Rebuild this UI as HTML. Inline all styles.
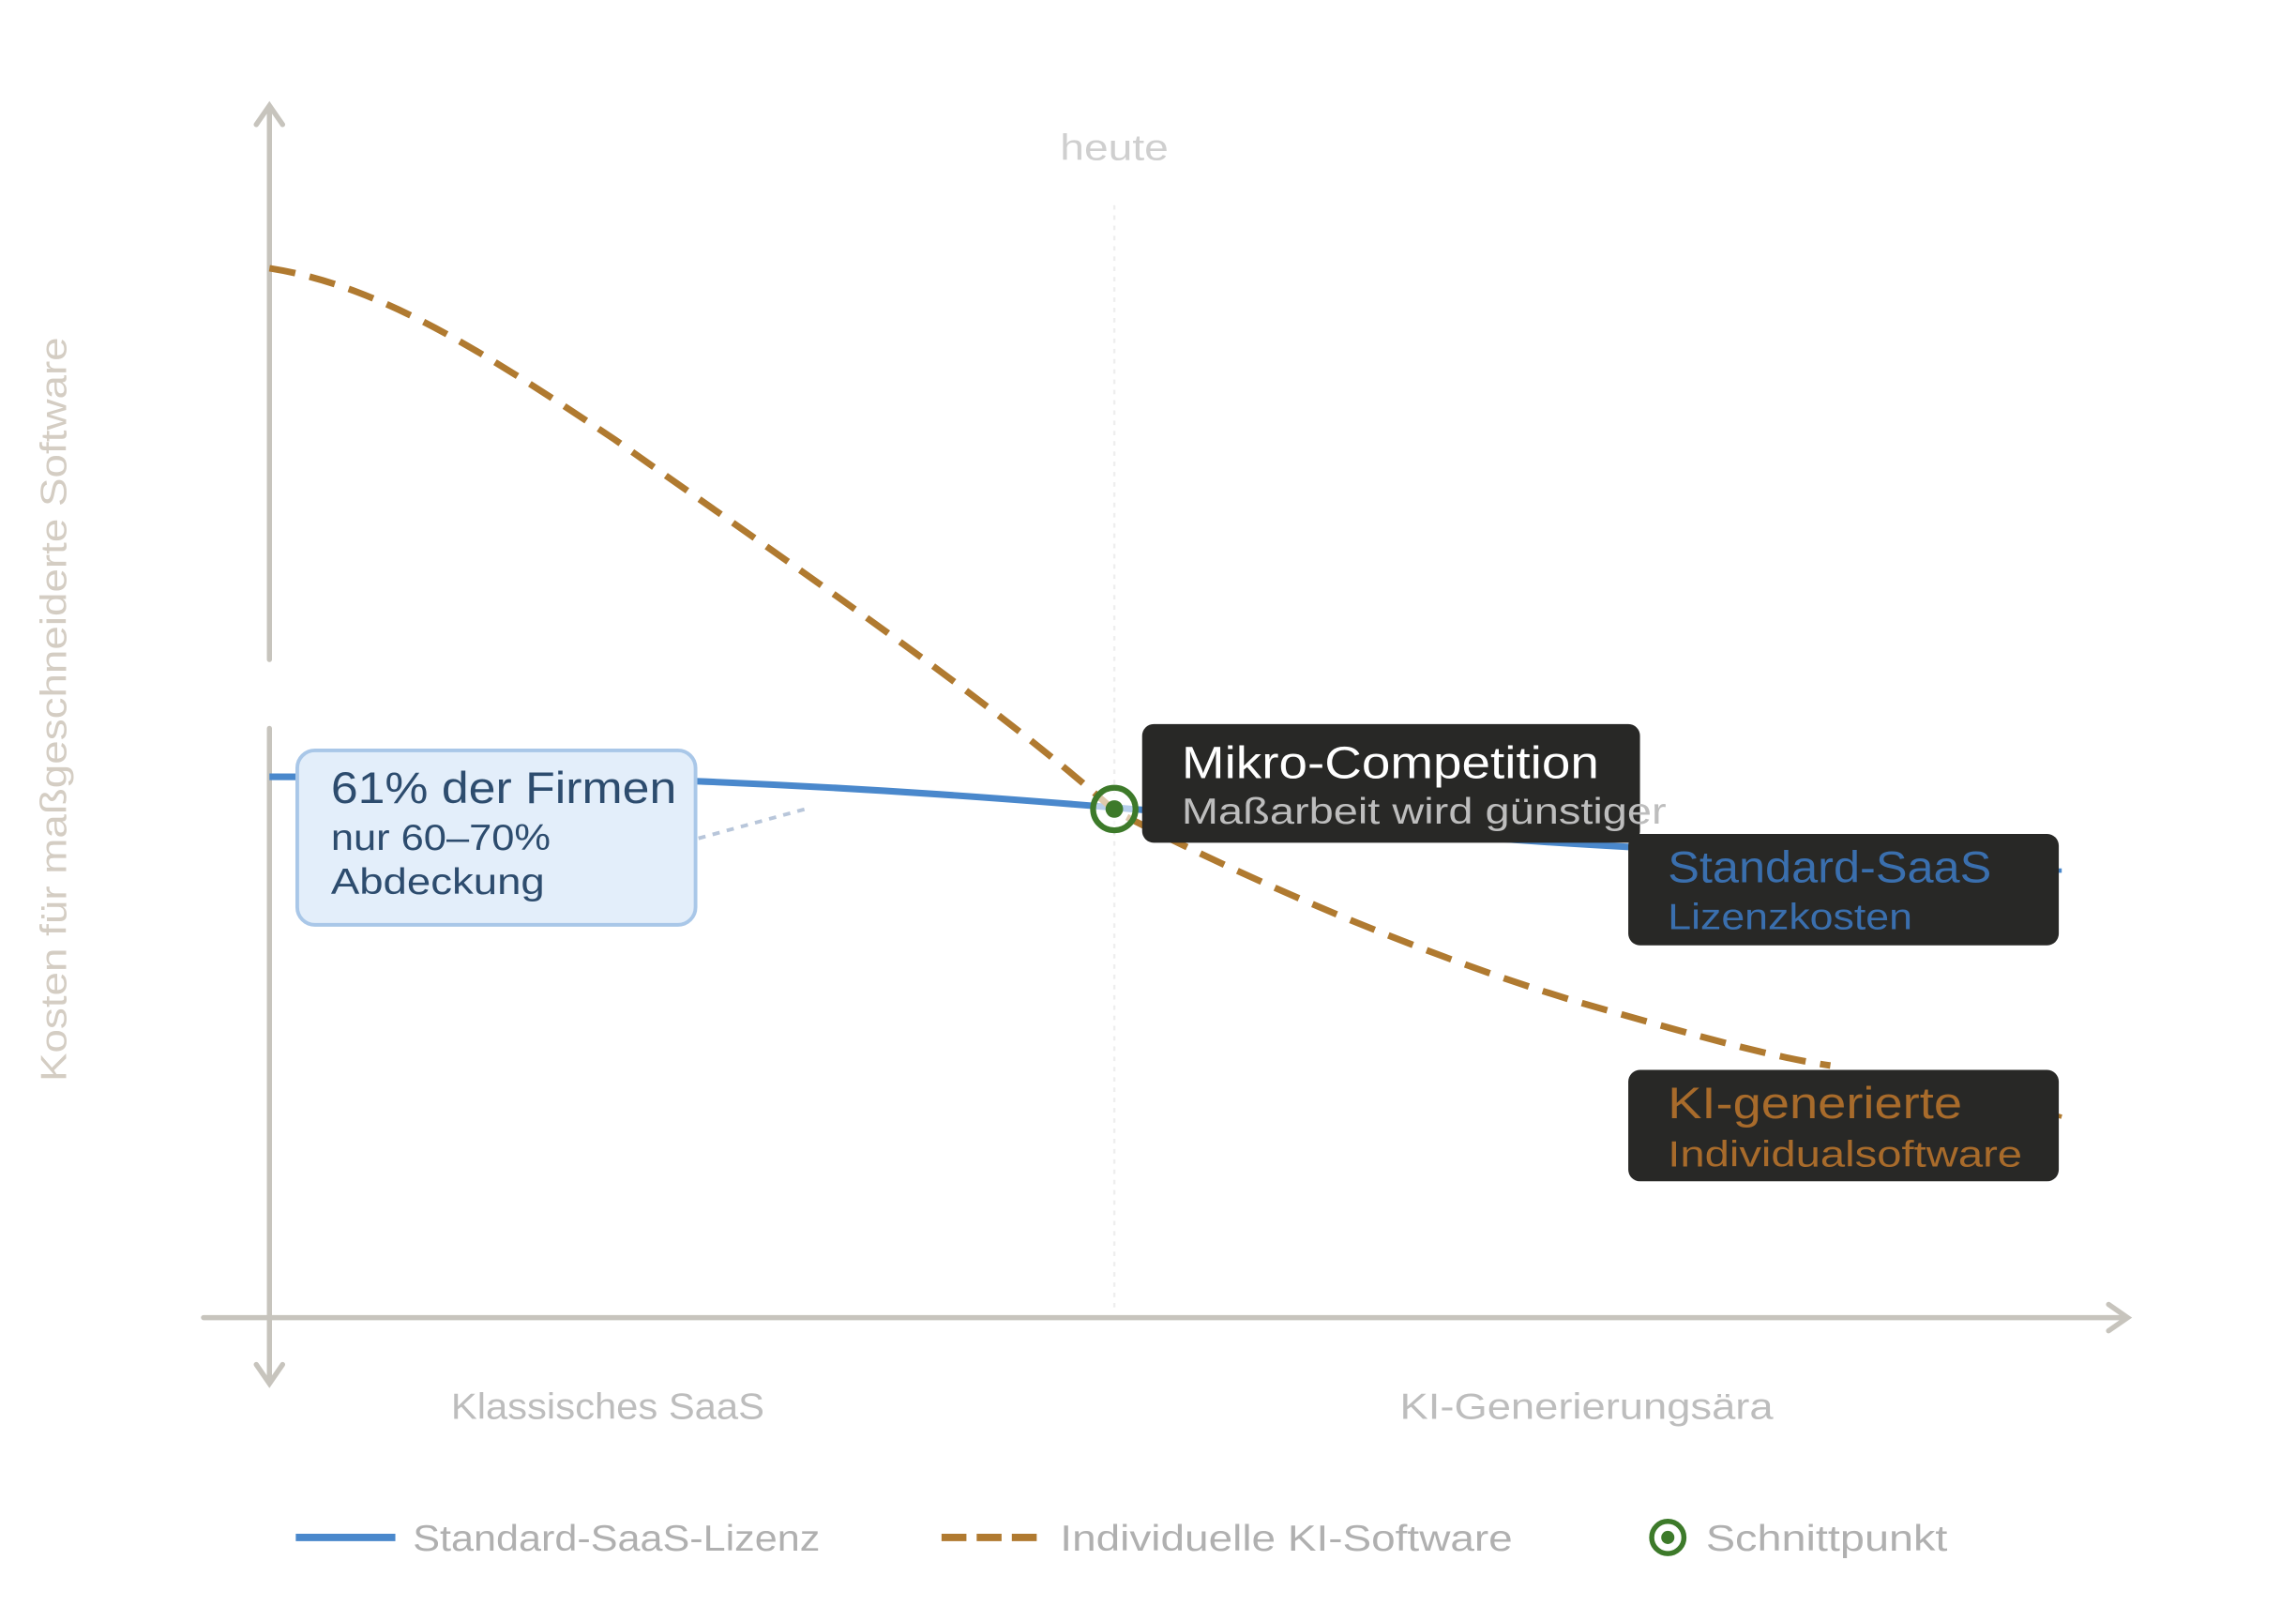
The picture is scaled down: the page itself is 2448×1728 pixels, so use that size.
<!DOCTYPE html>
<html><head><meta charset="utf-8"><style>
html,body{margin:0;padding:0;background:#fff;}
svg{display:block;font-family:"Liberation Sans","DejaVu Sans",sans-serif;}
</style></head><body>
<svg width="2448" height="1728" viewBox="0 0 1568 1106" preserveAspectRatio="none" xmlns="http://www.w3.org/2000/svg">
<rect width="1568" height="1106" fill="#fff"/>
<line x1="761" y1="140" x2="761" y2="895" stroke="#eee" stroke-width="1.5" stroke-dasharray="3 4"/>
<text x="724" y="109" font-size="25" fill="#cfcfcf" textLength="74" lengthAdjust="spacingAndGlyphs">heute</text>
<g stroke="#c7c4bd" stroke-width="3.5" fill="none" stroke-linecap="round">
<line x1="184" y1="74" x2="184" y2="450"/>
<polyline points="175,85 184,72 193,85"/>
<line x1="184" y1="497" x2="184" y2="942"/>
<polyline points="175,931 184,944 193,931"/>
<line x1="139" y1="899" x2="1451" y2="899"/>
<polyline points="1440,890 1453,899 1440,908"/>
</g>
<text transform="translate(45,738) rotate(-90)" font-size="25" fill="#d4cdc3" textLength="508" lengthAdjust="spacingAndGlyphs">Kosten für maßgeschneiderte Software</text>
<path d="M184,530 C300,530 420,531 475,533 C600,538 700,546 761,551 C900,562 1000,572 1115,578" stroke="#4a88cc" stroke-width="4.5" fill="none"/>
<line x1="1400" y1="594" x2="1408" y2="594" stroke="#4a88cc" stroke-width="3"/>
<path d="M184,183 C260,195 330,240 420,300 C540,385 680,480 761,553 C850,600 990,660 1100,690 C1170,710 1215,722 1250,727" stroke="#b07a30" stroke-width="4.5" fill="none" stroke-dasharray="18 10"/>
<line x1="1401" y1="760" x2="1408" y2="762" stroke="#b07a30" stroke-width="3"/>
<line x1="477" y1="572" x2="550" y2="552" stroke="#b8c6da" stroke-width="2.5" stroke-dasharray="5 5"/>
<rect x="203" y="512" width="272" height="119" rx="12" fill="#e3eefa" stroke="#a9c7e8" stroke-width="2.5"/>
<text x="226" y="548" font-size="30" fill="#2d4c6e" textLength="236" lengthAdjust="spacingAndGlyphs">61% der Firmen</text>
<text x="226" y="580" font-size="25" fill="#2d4c6e" textLength="150" lengthAdjust="spacingAndGlyphs">nur 60–70%</text>
<text x="226" y="610" font-size="25" fill="#2d4c6e" textLength="146" lengthAdjust="spacingAndGlyphs">Abdeckung</text>
<circle cx="761" cy="552" r="14.5" fill="#fff" fill-opacity="0.6" stroke="#3d7a2a" stroke-width="4"/>
<circle cx="761" cy="552" r="6" fill="#3d7a2a"/>
<rect x="780" y="494" width="340" height="81" rx="8" fill="#282826"/>
<text x="807" y="531" font-size="31" fill="#fff" textLength="285" lengthAdjust="spacingAndGlyphs">Mikro-Competition</text>
<text x="807" y="562" font-size="25" fill="#bdbdbd" textLength="331" lengthAdjust="spacingAndGlyphs">Maßarbeit wird günstiger</text>
<rect x="1112" y="569" width="294" height="76" rx="8" fill="#282826"/>
<text x="1139" y="602" font-size="30" fill="#3a6fae" textLength="221" lengthAdjust="spacingAndGlyphs">Standard-SaaS</text>
<text x="1139" y="634" font-size="25" fill="#3a6fae" textLength="167" lengthAdjust="spacingAndGlyphs">Lizenzkosten</text>
<rect x="1112" y="730" width="294" height="76" rx="8" fill="#282826"/>
<text x="1139" y="763" font-size="30" fill="#a86b2b" textLength="201" lengthAdjust="spacingAndGlyphs">KI-generierte</text>
<text x="1139" y="796" font-size="25" fill="#a86b2b" textLength="242" lengthAdjust="spacingAndGlyphs">Individualsoftware</text>
<text x="308" y="968" font-size="25" fill="#bdbdbd" textLength="214" lengthAdjust="spacingAndGlyphs">Klassisches SaaS</text>
<text x="956" y="968" font-size="25" fill="#bdbdbd" textLength="255" lengthAdjust="spacingAndGlyphs">KI-Generierungsära</text>
<line x1="202" y1="1049" x2="270" y2="1049" stroke="#4a88cc" stroke-width="5"/>
<text x="282" y="1058" font-size="25" fill="#b0b0b0" textLength="278" lengthAdjust="spacingAndGlyphs">Standard-SaaS-Lizenz</text>
<line x1="643" y1="1049" x2="712" y2="1049" stroke="#b07a30" stroke-width="5" stroke-dasharray="17 7"/>
<text x="724" y="1058" font-size="25" fill="#b0b0b0" textLength="309" lengthAdjust="spacingAndGlyphs">Individuelle KI-Software</text>
<circle cx="1139" cy="1049" r="11" fill="none" stroke="#3d7a2a" stroke-width="3.5"/>
<circle cx="1139" cy="1049" r="4.5" fill="#3d7a2a"/>
<text x="1165" y="1058" font-size="25" fill="#b0b0b0" textLength="165" lengthAdjust="spacingAndGlyphs">Schnittpunkt</text>
</svg>
</body></html>
